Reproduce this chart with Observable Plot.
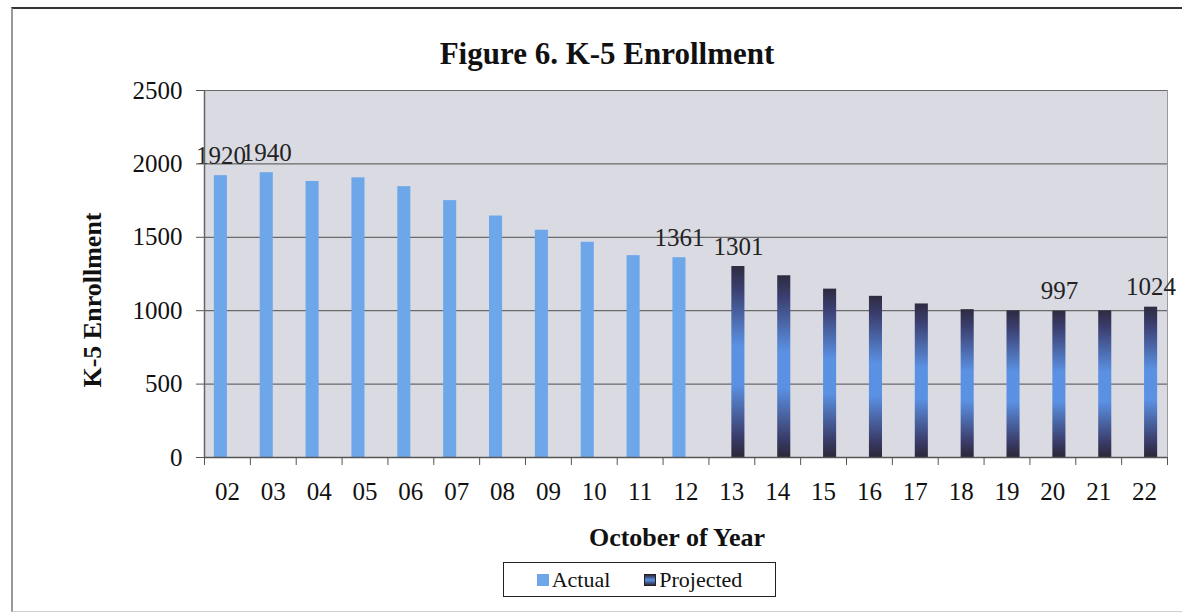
<!DOCTYPE html>
<html>
<head>
<meta charset="utf-8">
<script src="https://cdn.jsdelivr.net/npm/d3@7"></script>
<script src="https://cdn.jsdelivr.net/npm/@observablehq/plot@0.6"></script>
<style>
  html, body { margin: 0; padding: 0; background: #fff; }
  body { width: 1182px; height: 616px; position: relative; overflow: hidden; font-family: "Liberation Serif", "DejaVu Serif", serif; color: #111; }
  .frame { position: absolute; left: 11px; top: 7px; width: 1190px; height: 605px; border-left: 2px solid #9a9a9a; border-top: 2px solid #333; border-bottom: 1px solid #d0d0d0; box-sizing: border-box; }
  .title { position: absolute; left: 607px; top: 37px; transform: translateX(-50%); font-size: 31px; font-weight: bold; white-space: nowrap; line-height: 34px; }
  .xlabel { position: absolute; left: 677px; top: 522px; transform: translateX(-50%); font-size: 26px; font-weight: bold; white-space: nowrap; line-height: 32px; }
  .ylabel { position: absolute; left: 93px; top: 300px; transform: translate(-50%, -50%) rotate(-90deg); font-size: 26px; font-weight: bold; white-space: nowrap; line-height: 30px; }
  #chart { position: absolute; left: 0; top: 60px; }
  .legend { position: absolute; left: 503px; top: 562px; width: 273px; height: 35px; border: 1.5px solid #222; box-sizing: border-box; display: flex; align-items: center; justify-content: center; font-size: 22px; background: #fff; }
  .legend .item { display: flex; align-items: center; }
  .legend .sw { width: 12px; height: 12px; margin-right: 3px; box-sizing: border-box; }
</style>
</head>
<body>
<div class="frame"></div>
<div class="title">Figure 6. K-5 Enrollment</div>
<div id="chart"></div>
<div class="ylabel">K-5 Enrollment</div>
<div class="xlabel">October of Year</div>
<div class="legend" id="legend"></div>
<script>
// ---- data ----
const actualYears = [2, 3, 4, 5, 6, 7, 8, 9, 10, 11, 12];
const actualValues = [1920, 1940, 1880, 1905, 1845, 1750, 1645, 1548, 1466, 1375, 1361];
const projectedYears = [13, 14, 15, 16, 17, 18, 19, 20, 21, 22];
const projectedValues = [1301, 1238, 1147, 1098, 1046, 1007, 999, 997, 999, 1024];
const labeledYears = [2, 3, 12, 13, 20, 22];
const yTicks = [0, 500, 1000, 1500, 2000, 2500];
const seriesNames = ["Actual", "Projected"];

const actualColor = "#6ea7e9";
const allYears = actualYears.concat(projectedYears);
const actual = actualYears.map((yr, i) => ({yr, value: actualValues[i], series: "Actual"}));
const projected = projectedYears.map((yr, i) => ({yr, value: projectedValues[i], series: "Projected"}));
const all = actual.concat(projected);
const labeled = all.filter(d => labeledYears.includes(d.yr));
const boundaries = allYears.map(y => y - 0.5).concat([allYears[allYears.length - 1] + 0.5]);
const half = 0.285;
const slot = d => d.series === "Actual" ? -half / 2 : half / 2;

const chart = Plot.plot({
  width: 1182,
  height: 500,
  marginTop: 30,
  marginBottom: 103,
  marginLeft: 204,
  marginRight: 15,
  style: {fontFamily: "'Liberation Serif', serif", color: "#111", background: "transparent"},
  x: {type: "linear", domain: [boundaries[0], boundaries[boundaries.length - 1]]},
  y: {domain: [0, 2500]},
  marks: [
    Plot.frame({fill: "#dadae3", stroke: "#9a9a9a"}),
    Plot.gridY(yTicks, {stroke: "#6a6a6a", strokeOpacity: 1, strokeWidth: 1.2}),
    Plot.rectY(actual, {x1: d => d.yr - half, x2: d => d.yr, y: "value", fill: actualColor}),
    Plot.rectY(projected, {x1: d => d.yr, x2: d => d.yr + half, y: "value", fill: "url(#projGrad)"}),
    Plot.text(labeled, {x: d => d.yr + slot(d), y: "value", text: d => String(d.value), lineAnchor: "bottom", dy: -12, fontSize: 25, fill: "#222"}),
    Plot.axisY({ticks: yTicks, tickSize: 8, tickPadding: 14, fontSize: 25, label: null, tickFormat: d => String(d), stroke: "#555"}),
    Plot.axisX({ticks: allYears, tickSize: 0, tickPadding: 25, fontSize: 25, label: null, tickFormat: d => String(d).padStart(2, "0")}),
    Plot.axisX({ticks: boundaries, tickSize: 8, tickFormat: () => "", label: null, stroke: "#555"}),
    Plot.ruleY([0], {stroke: "#555", strokeWidth: 1.5}),
    Plot.ruleX([boundaries[0]], {stroke: "#666", strokeWidth: 1.5})
  ]
});

// gradient definition for projected bars
const svgNS = "http://www.w3.org/2000/svg";
const defs = document.createElementNS(svgNS, "defs");
defs.innerHTML = `
  <linearGradient id="projGrad" x1="0" y1="0" x2="0" y2="1">
    <stop offset="0" stop-color="#2e2b40"/>
    <stop offset="0.12" stop-color="#3b3f70"/>
    <stop offset="0.42" stop-color="#5b91e3"/>
    <stop offset="0.62" stop-color="#5b91e3"/>
    <stop offset="0.9" stop-color="#3a3b68"/>
    <stop offset="1" stop-color="#2a2838"/>
  </linearGradient>`;
chart.insertBefore(defs, chart.firstChild);
document.getElementById("chart").appendChild(chart);

// legend
const legend = document.getElementById("legend");
seriesNames.forEach((name, i) => {
  const item = document.createElement("div");
  item.className = "item";
  if (i > 0) item.style.marginLeft = "34px";
  const sw = document.createElement("div");
  sw.className = "sw";
  if (name === "Actual") {
    sw.style.background = actualColor;
  } else {
    sw.style.background = "linear-gradient(#2e2b40, #5b91e3, #2e2b40)";
    sw.style.border = "1.5px solid #222";
  }
  const t = document.createElement("span");
  t.textContent = name;
  item.appendChild(sw);
  item.appendChild(t);
  legend.appendChild(item);
});
</script>
</body>
</html>
